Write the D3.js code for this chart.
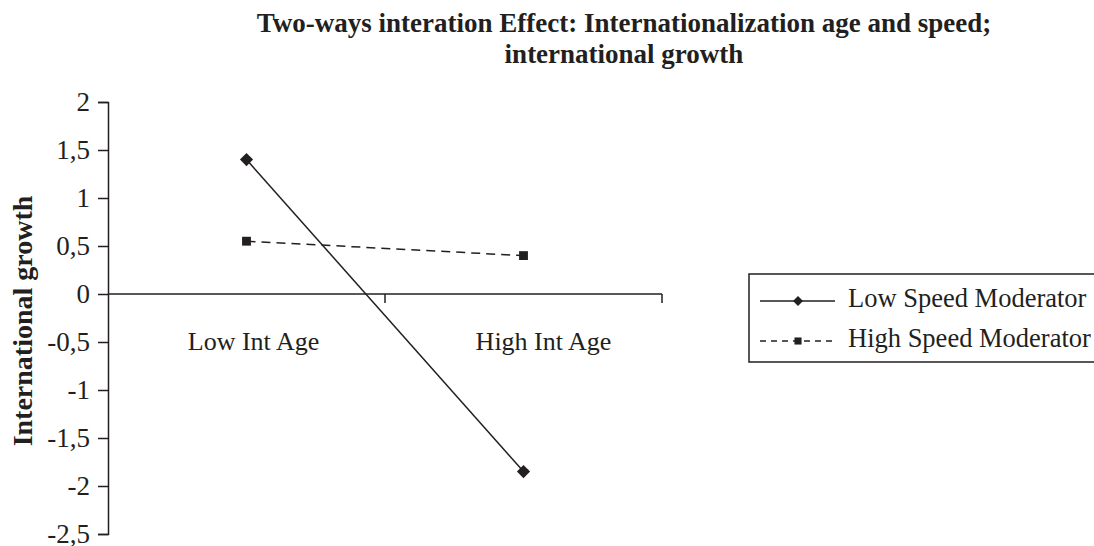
<!DOCTYPE html>
<html>
<head>
<meta charset="utf-8">
<script src="https://d3js.org/d3.v7.min.js"></script>
<style>
    body { margin: 0; background: #fff; }
    svg { display: block; font-family: 'Liberation Serif', 'Times New Roman', serif; }
</style>
</head>
<body>
<div id="chart"></div>
<script>
const categories = ['Low Int Age', 'High Int Age'];
const lowSpeed = [1.4, -1.85];
const highSpeed = [0.55, 0.4];
const yTicks = [2, 1.5, 1, 0.5, 0, -0.5, -1, -1.5, -2, -2.5];
const seriesNames = ['Low Speed Moderator', 'High Speed Moderator'];

const width = 1094;
const height = 546;
const ink = '#231f20';
const fontSize = 26;

const svg = d3.select('#chart')
    .append('svg')
    .attr('width', width)
    .attr('height', height);

const x = d3.scaleBand()
    .domain(categories)
    .range([108, 662]);

const y = d3.scaleLinear()
    .domain([-2.5, 2])
    .range([534, 102]);

const fmt = v => d3.format('.1~f')(v).replace('.', ',').replace('\u2212', '-');

// title
const title = svg.append('g')
    .attr('font-weight', 'bold')
    .attr('font-size', 27)
    .attr('fill', ink)
    .attr('text-anchor', 'middle');
title.append('text').attr('x', 624).attr('y', 32)
    .text('Two-ways interation Effect: Internationalization age and speed;');
title.append('text').attr('x', 624).attr('y', 63)
    .text('international growth');

// y axis
const yAxis = svg.append('g')
    .attr('transform', `translate(${x.range()[0]},0)`)
    .call(d3.axisLeft(y).tickValues(yTicks).tickFormat(fmt).tickSize(10).tickPadding(8));
yAxis.select('.domain').attr('stroke', ink).attr('stroke-width', 1.5);
yAxis.selectAll('.tick line').attr('stroke', ink).attr('stroke-width', 1.5);
yAxis.selectAll('.tick text')
    .attr('font-family', 'Liberation Serif, serif')
    .attr('font-size', 27)
    .attr('fill', ink);

svg.append('text')
    .attr('transform', `translate(32,${(y(2) + y(-2.5)) / 2 + 3}) rotate(-90)`)
    .attr('text-anchor', 'middle')
    .attr('font-weight', 'bold')
    .attr('font-size', 28)
    .attr('fill', ink)
    .text('International growth');

// x axis at zero, ticks on category boundaries
const xAxis = svg.append('g')
    .attr('transform', `translate(0,${y(0)})`);
xAxis.append('line')
    .attr('x1', x.range()[0]).attr('x2', x.range()[1])
    .attr('stroke', ink).attr('stroke-width', 1.5);
xAxis.selectAll('.bound')
    .data(categories)
    .join('line')
    .attr('class', 'bound')
    .attr('x1', d => x(d) + x.bandwidth())
    .attr('x2', d => x(d) + x.bandwidth())
    .attr('y1', 0).attr('y2', 9)
    .attr('stroke', ink).attr('stroke-width', 1.5);
xAxis.selectAll('.cat')
    .data(categories)
    .join('text')
    .attr('class', 'cat')
    .attr('x', (d, i) => x(d) + x.bandwidth() / 2 + 7 + i * 13)
    .attr('y', 56)
    .attr('text-anchor', 'middle')
    .attr('font-size', fontSize)
    .attr('fill', ink)
    .text(d => d);

const cx = d => x(d) + x.bandwidth() / 2;
const line = d3.line()
    .x((d, i) => cx(categories[i]))
    .y(d => y(d));

const diamond = d3.symbol().type(d3.symbolDiamond2);
const square = d3.symbol().type(d3.symbolSquare2);

// series
svg.append('path')
    .datum(lowSpeed)
    .attr('d', line)
    .attr('fill', 'none')
    .attr('stroke', ink)
    .attr('stroke-width', 1.5);
svg.append('path')
    .datum(highSpeed)
    .attr('d', line)
    .attr('fill', 'none')
    .attr('stroke', ink)
    .attr('stroke-width', 1.5)
    .attr('stroke-dasharray', '9,6');

svg.selectAll('.m-low')
    .data(lowSpeed)
    .join('path')
    .attr('class', 'm-low')
    .attr('d', diamond.size(110))
    .attr('transform', (d, i) => `translate(${cx(categories[i])},${y(d)})`)
    .attr('fill', ink);
svg.selectAll('.m-high')
    .data(highSpeed)
    .join('path')
    .attr('class', 'm-high')
    .attr('d', square.size(100))
    .attr('transform', (d, i) => `translate(${cx(categories[i])},${y(d)})`)
    .attr('fill', ink);

// legend
const legend = svg.append('g').attr('transform', 'translate(749,274)');
legend.append('rect')
    .attr('width', 360).attr('height', 88)
    .attr('fill', 'none')
    .attr('stroke', ink)
    .attr('stroke-width', 1.5);
const rows = legend.selectAll('.row')
    .data(seriesNames)
    .join('g')
    .attr('class', 'row')
    .attr('transform', (d, i) => `translate(0,${27 + i * 40})`);
rows.append('line')
    .attr('x1', 11).attr('x2', 86)
    .attr('stroke', ink)
    .attr('stroke-width', 1.5)
    .attr('stroke-dasharray', (d, i) => i ? '6,5' : null);
rows.append('path')
    .attr('d', (d, i) => i ? square.size(64)() : diamond.size(64)())
    .attr('transform', 'translate(49,0)')
    .attr('fill', ink);
rows.append('text')
    .attr('x', 99)
    .attr('y', 6)
    .attr('font-size', 26.5)
    .attr('fill', ink)
    .text(d => d);
</script>
</body>
</html>
